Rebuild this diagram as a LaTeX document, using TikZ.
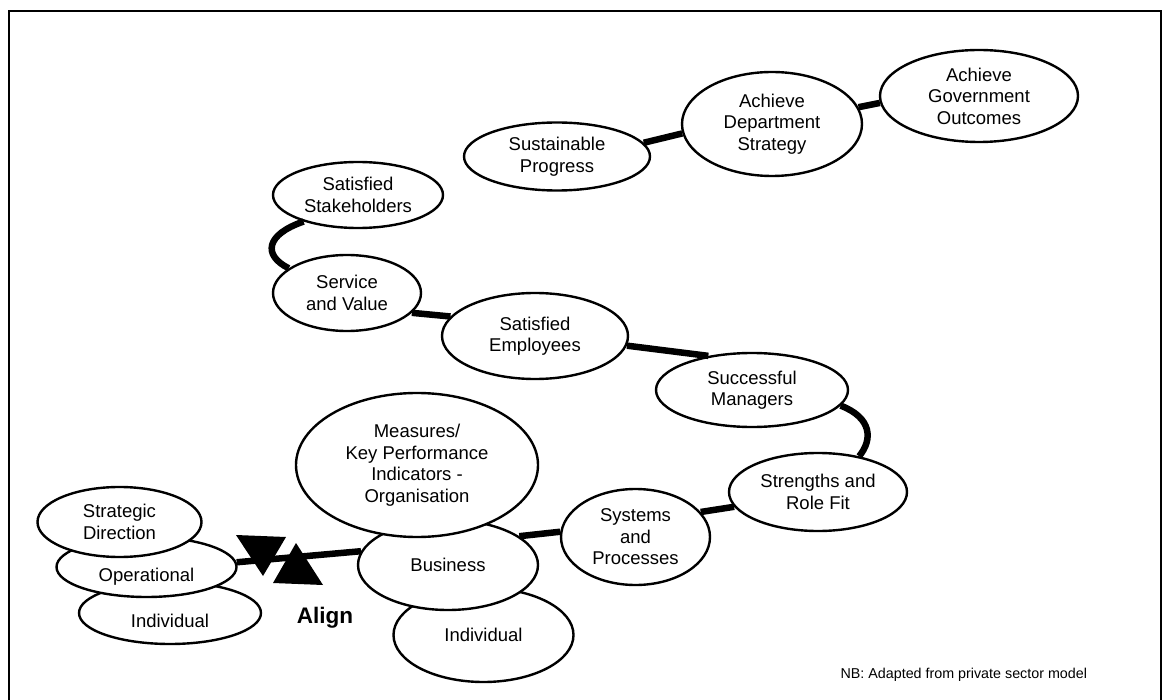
\documentclass[tikz,border=0pt]{standalone}
\usepackage{fontspec}
\setmainfont{Liberation Sans}
\usetikzlibrary{shapes.geometric}

\newlength{\du}
\setlength{\du}{1pt}
\definecolor{dialinecolor}{rgb}{0.000000, 0.000000, 0.000000}

\tikzset{
  bubble/.style={ellipse, draw=dialinecolor, fill=white, line width=2.4\du,
    inner sep=0pt, align=center, font=\fontsize{18.5}{21.5}\selectfont},
  link/.style={draw=dialinecolor, line width=6.5\du},
  sunk/.style={text height=33.6\du, text depth=4\du},
}

\begin{document}
\begin{tikzpicture}
\pgftransformxscale{1.000000}
\pgftransformyscale{-1.000000}
\useasboundingbox (0.000000\du,0.000000\du) rectangle (1164.000000\du,700.000000\du);
\pgfsetstrokecolor{dialinecolor}
\pgfsetlinewidth{2.500000\du}
\pgfsetmiterjoin
% frame, open at the bottom
\draw (9.000000\du,704.000000\du)--(9.000000\du,11.000000\du)--(1161.000000\du,11.000000\du)--(1161.000000\du,704.000000\du);
% top chain
\node[bubble, minimum width=198\du, minimum height=92\du] (gov) at (979.000000\du,96.000000\du){Achieve\\Government\\Outcomes};
\node[bubble, minimum width=180\du, minimum height=104\du] (dept) at (772.000000\du,124.000000\du){Achieve\\Department\\Strategy};
\node[bubble, minimum width=186\du, minimum height=68\du] (sust) at (557.000000\du,156.500000\du){Sustainable\\Progress};
% middle chain
\node[bubble, minimum width=170\du, minimum height=66\du] (stake) at (358.000000\du,195.000000\du){Satisfied\\Stakeholders};
\node[bubble, minimum width=148\du, minimum height=76\du] (serv) at (347.000000\du,293.000000\du){Service\\and Value};
\node[bubble, minimum width=186\du, minimum height=86\du] (emp) at (535.000000\du,336.000000\du){Satisfied\\Employees};
\node[bubble, minimum width=192\du, minimum height=74\du] (man) at (752.000000\du,390.000000\du){Successful\\Managers};
\node[bubble, minimum width=178\du, minimum height=78\du] (str) at (818.000000\du,492.000000\du){Strengths and\\Role Fit};
\node[bubble, minimum width=149\du, minimum height=96\du] (sys) at (635.500000\du,537.000000\du){Systems\\and\\Processes};
% business stack
\node[bubble, minimum width=180\du, minimum height=94\du] (indr) at (483.500000\du,635.000000\du){Individual};
\node[bubble, minimum width=180\du, minimum height=90\du] (bus) at (448.000000\du,565.000000\du){Business};
\node[bubble, minimum width=242\du, minimum height=144\du] (meas) at (417.000000\du,465.000000\du){Measures/\\Key Performance\\Indicators -\\Organisation};
% left stack
\node[bubble, sunk, minimum width=182\du, minimum height=62\du] (indl) at (170.000000\du,613.000000\du){Individual};
\node[bubble, sunk, minimum width=180\du, minimum height=60\du] (oper) at (146.500000\du,567.000000\du){Operational};
\node[bubble, minimum width=164\du, minimum height=70\du] (strat) at (119.500000\du,522.000000\du){Strategic\\Direction};
% connectors
\draw[link] (sust.9)--(dept.186);
\draw[link] (dept.11)--(gov.184);
\draw[link] (serv.157) .. controls +(-26\du,-13\du) and +(-38\du,13\du) .. (stake.206);
\draw[link] (emp.167)--(serv.343);
\draw[link] (man.142)--(emp.354);
\draw[link] (man.350) .. controls +(31\du,12\du) and +(14\du,-17\du) .. (str.41);
\draw[link] (sys.21)--(str.190);
\draw[link] (bus.22)--(sys.176);
\draw[link] (oper.3)--(bus.171);
% align heads
\fill[dialinecolor] (236.000000\du,535.000000\du)--(286.000000\du,537.000000\du)--(263.000000\du,576.000000\du)--cycle;
\fill[dialinecolor] (296.000000\du,543.000000\du)--(273.000000\du,583.000000\du)--(323.000000\du,585.000000\du)--cycle;
\node[font=\fontsize{22.5}{27}\selectfont\bfseries] (align) at (325.000000\du,618.000000\du){Align};
% setfont left to latex
\node[anchor=west, font=\fontsize{14.3}{17}\selectfont] (nb) at (836.000000\du,675.000000\du){NB: Adapted from private sector model};
\end{tikzpicture}
\end{document}
